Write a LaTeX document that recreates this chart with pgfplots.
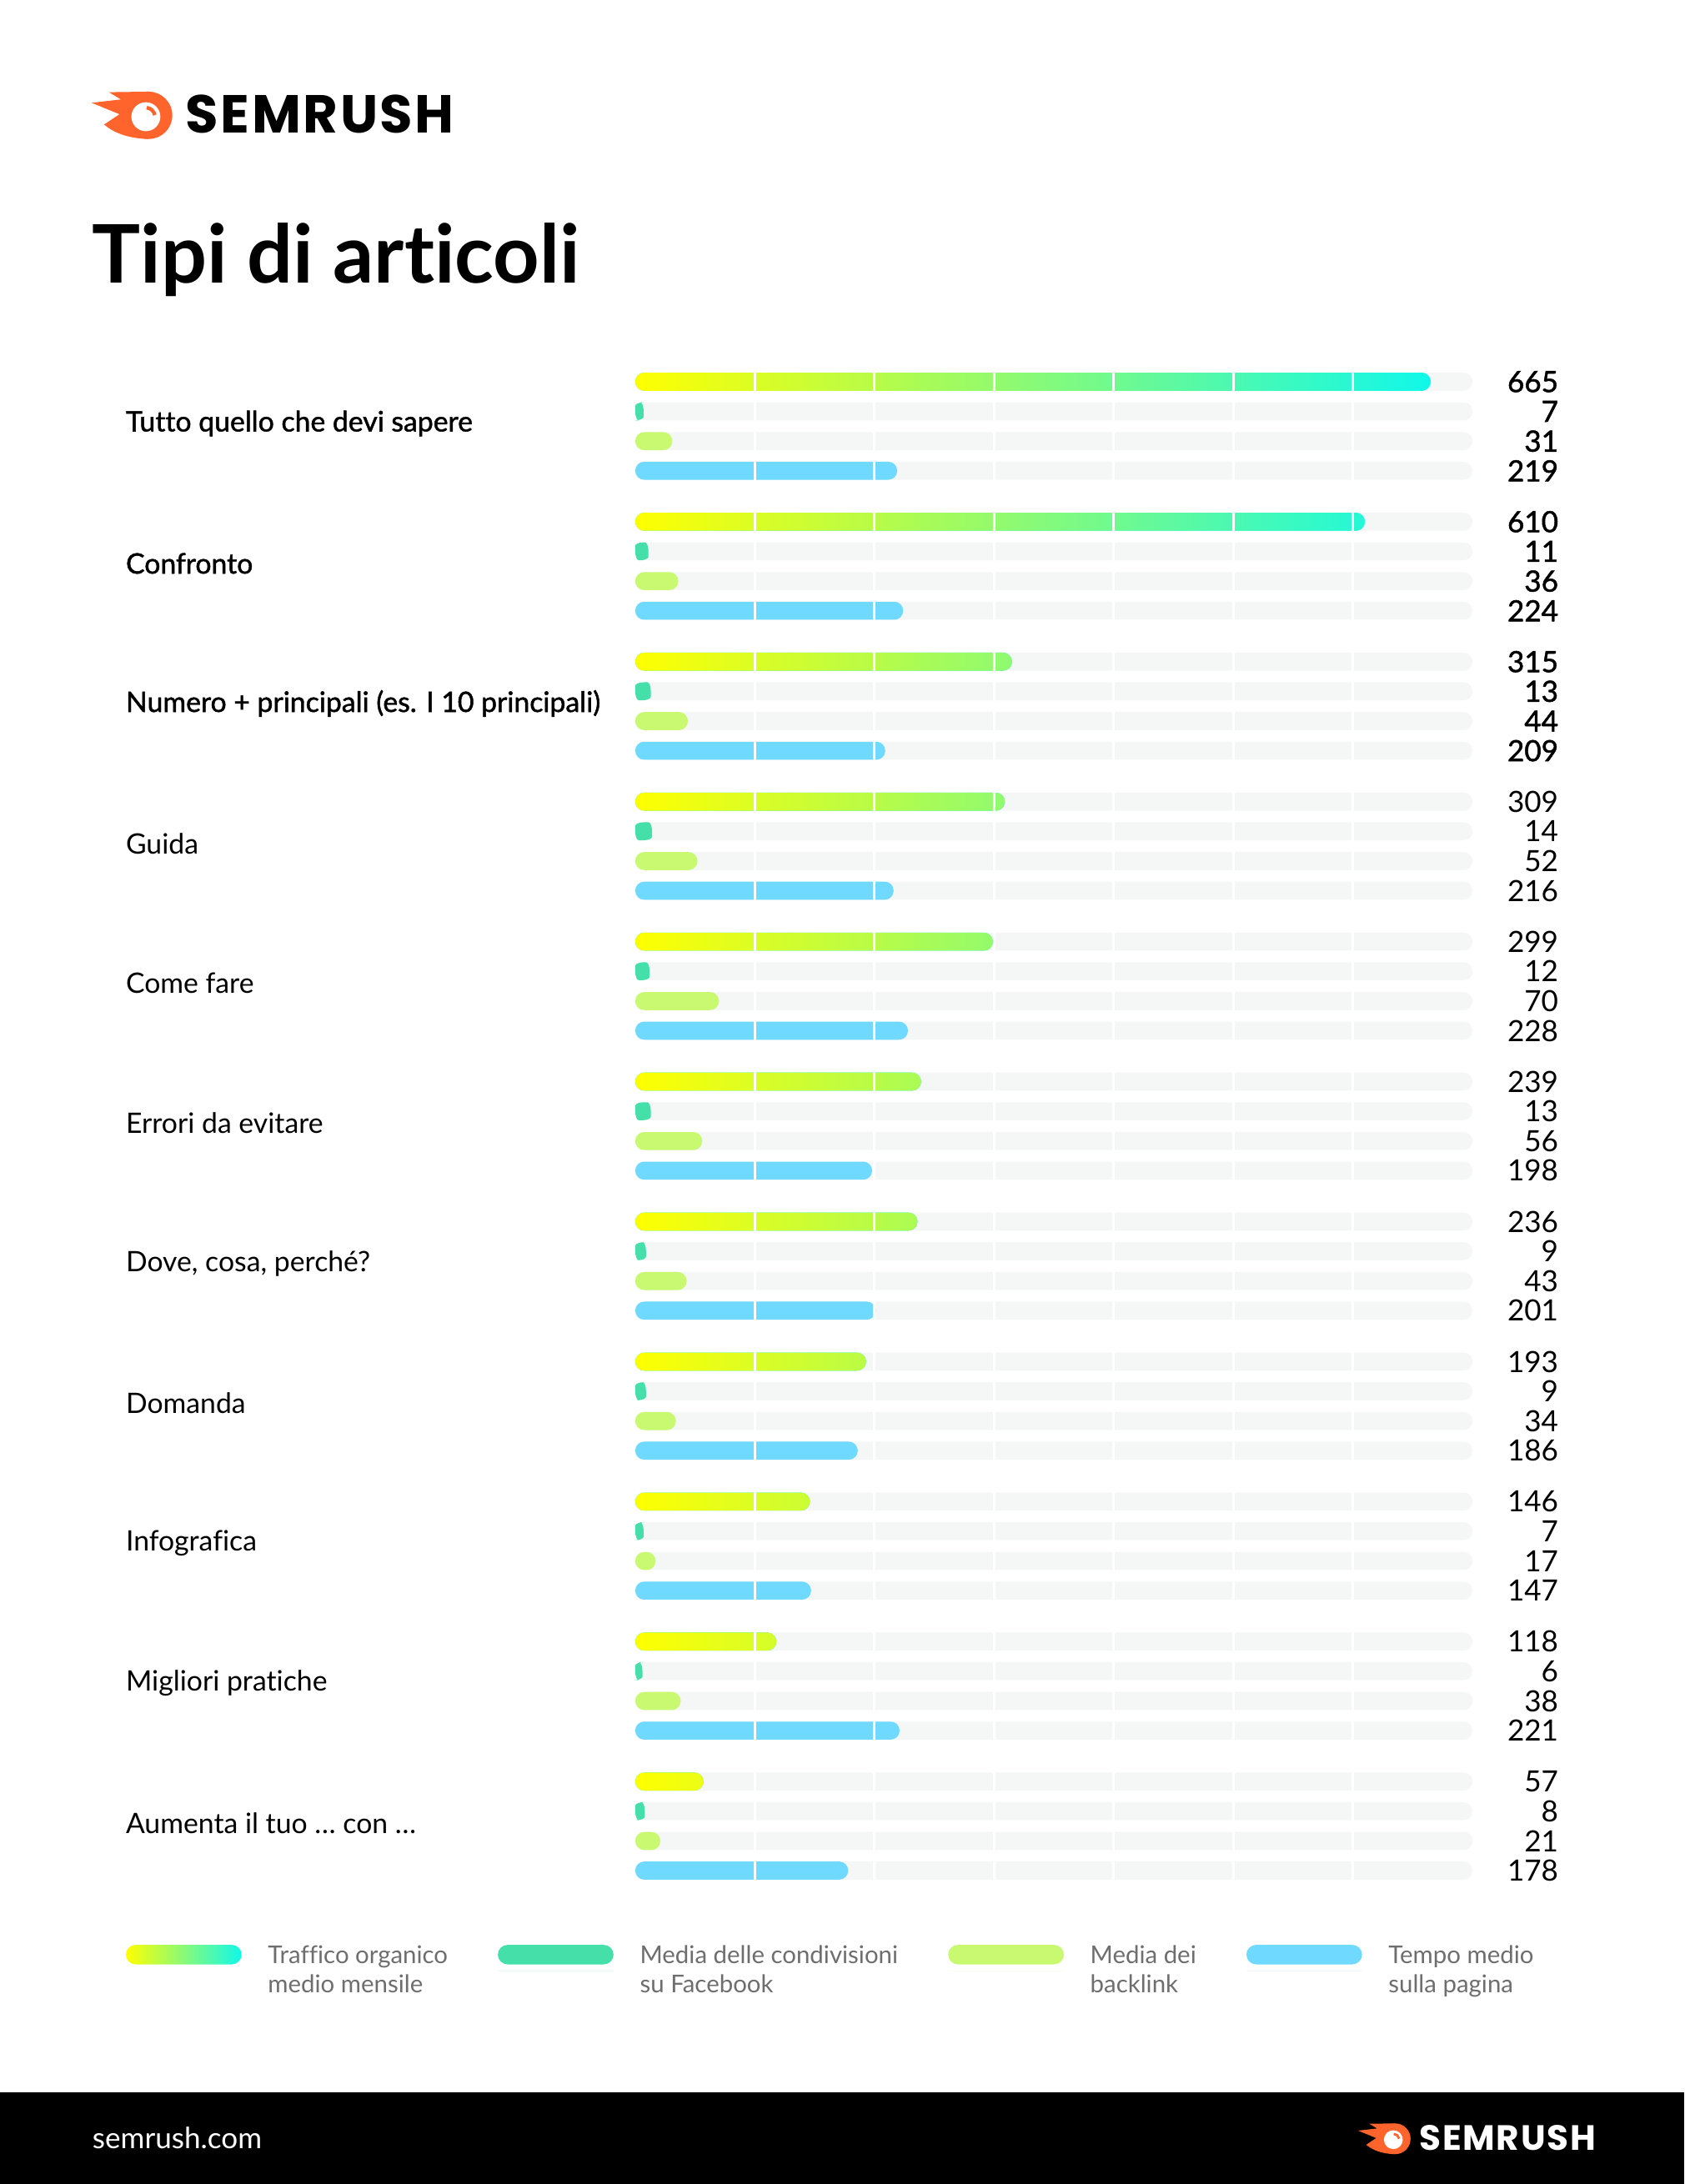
\documentclass[border=0pt]{standalone}
\usepackage{pgfplots}
\pgfplotsset{compat=1.18}
\usepackage{pgfplotstable}
\usepackage{fontspec}
\setmainfont{Lato}[Ligatures={NoCommon}]
\newfontfamily\medfont{Lato}[FakeBold=1.4, Ligatures={NoCommon}]
\newfontfamily\logofont{Poppins}[LetterSpace=4]

\definecolor{track}{HTML}{F5F7F6}
\definecolor{gyel}{HTML}{FFFF00}
\definecolor{gmid}{HTML}{88FA78}
\definecolor{gcyan}{HTML}{10F8EA}
\definecolor{fbgreen}{HTML}{45E0A9}
\definecolor{blgreen}{HTML}{C8F970}
\definecolor{tblue}{HTML}{6FD9FF}
\definecolor{legtext}{HTML}{6E6E6E}
\definecolor{srorange}{HTML}{FF642D}

% pgf fits the 25bp..75bp part of a shading onto the path
\pgfdeclarehorizontalshading{trafficgrad}{100bp}{color(0bp)=(gyel); color(25bp)=(gyel);
  color(50bp)=(gmid); color(75bp)=(gcyan); color(100bp)=(gcyan)}

% g = article type (0 = top row)
\pgfplotstableread{
g traffic fb backlink tempo track
0  665 7  31 219 700
1  610 11 36 224 700
2  315 13 44 209 700
3  309 14 52 216 700
4  299 12 70 228 700
5  239 13 56 198 700
6  236 9  43 201 700
7  193 9  34 186 700
8  146 7  17 147 700
9  118 6  38 221 700
10 57  8  21 178 700
}\articoli

% logo: #1 text colour, #2 font size, #3 arc width
\newcommand\srlogo[3]{%
  \fill[srorange] (40.7,0.8) circle (17);
  \fill[srorange] (12.2,-15.8) -- (40.7,-16.2) -- (40.7,17.8)
    .. controls (26,17.5) and (15,13) .. (8.8,7.4) -- (19.8,0)
    -- (-0.2,-8.2) -- (20.8,-10.6) -- cycle;
  \fill[white] (38.7,1.8) circle (10.4);
  \draw[srorange, line width=#3] ([shift={(-85:6.5)}]38.7,1.8) arc (-85:-10:6.5);
  \node[anchor=west, inner sep=0pt, text=#1,
    font=\logofont\bfseries\fontsize{#2}{#2}\selectfont] at (67,0) {SEMRUSH};
}

% legend swatch that does not change the row height
\newcommand\swatch[1]{%
  \begin{pgfinterruptboundingbox}
  \fill[#1, rounded corners=3.5pt] (0pt,2.5pt) rectangle (41.5pt,9.5pt);
  \end{pgfinterruptboundingbox}
  \path (0pt,0pt) -- (41.5pt,0pt);}

\pgfplotsset{
  rowbar/.style={xbar, bar width=0.129, bar shift=#1, draw=none, rounded corners=3.2pt},
  tracks/.style={rowbar=#1, fill=track, forget plot},
  vals/.style={draw=none, mark=none, forget plot, point meta=explicit symbolic,
    every node near coord/.append style={anchor=east, inner sep=0pt,
      font=\fontsize{10.5}{12}\selectfont}},
  valsb/.style={vals, nodes near coords={\medfont\pgfplotspointmeta},
    skip coords between index={3}{11}},
  valsr/.style={vals, nodes near coords={\pgfplotspointmeta},
    skip coords between index={0}{3}},
}

\begin{document}
\begin{tikzpicture}[x=0.5pt, y=-0.5pt]
\path[use as bounding box, fill=white] (0,0) rectangle (1209,1568);

\begin{axis}[
  at={(228pt,-127.875pt)}, anchor=north west,
  scale only axis, width=300.5pt, height=552.75pt,
  xmin=0, xmax=700, ymin=-0.5, ymax=10.5, y dir=reverse,
  clip=false, axis on top,
  axis line style={draw=none}, major tick length=0pt,
  xtick={100,200,300,400,500,600}, xticklabels={},
  xmajorgrids, grid style={white, line width=0.9pt},
  ytick={0,1,2,3,4,5,6,7,8,9,10},
  yticklabels={
    {\medfont Tutto quello che devi sapere},
    {\medfont Confronto},
    {\medfont Numero + principali (es. I 10 principali)},
    Guida, Come fare, Errori da evitare, {Dove, cosa, perché?},
    Domanda, Infografica, Migliori pratiche, {Aumenta il tuo … con …}},
  yticklabel style={anchor=west, inner sep=0pt, xshift=-183pt, yshift=1pt,
    font=\fontsize{10.1}{12}\selectfont},
  legend columns=4, legend cell align=left,
  legend style={at={(-0.609,-0.0318)}, anchor=north west, draw=none, fill=none,
    inner sep=0pt, font=\fontsize{8.8}{10.5}\selectfont,
    nodes={align=left, inner sep=0pt, text=legtext},
    /tikz/every odd column/.append style={column sep=9.5pt},
    /tikz/every even column/.append style={column sep=18pt}},
]
\addplot[tracks=-0.318] table[x=track, y=g] {\articoli};
\addplot[tracks=-0.1065] table[x=track, y=g] {\articoli};
\addplot[tracks=0.1065] table[x=track, y=g] {\articoli};
\addplot[tracks=0.318] table[x=track, y=g] {\articoli};

\addplot[rowbar=-0.318, fill=gcyan,
  path picture={%
    \pgfsetcornersarced{\pgfpointorigin}%
    \pgfpathrectanglecorners
      {\pgfpointadd{\pgfpointanchor{path picture bounding box}{south west}}{\pgfpoint{0pt}{-10pt}}}
      {\pgfpointadd{\pgfpointanchor{path picture bounding box}{north west}}{\pgfpoint{285.5pt}{10pt}}}%
    \pgfshadepath{trafficgrad}{0}%
    \pgfusepath{discard}},
  legend image code/.code={%
    \begin{pgfinterruptboundingbox}
    \pgfsetcornersarced{\pgfpointorigin}%
    \pgfpathmoveto{\pgfpoint{3.5pt}{2.5pt}}%
    \pgfpathlineto{\pgfpoint{38pt}{2.5pt}}%
    \pgfpatharc{-90}{90}{3.5pt}%
    \pgfpathlineto{\pgfpoint{3.5pt}{9.5pt}}%
    \pgfpatharc{90}{270}{3.5pt}%
    \pgfpathclose
    \pgfshadepath{trafficgrad}{0}%
    \pgfusepath{discard}%
    \end{pgfinterruptboundingbox}
    \pgfpathmoveto{\pgfpoint{0pt}{0pt}}\pgfpathlineto{\pgfpoint{41.5pt}{0pt}}%
    \pgfusepath{discard}}]
  table[x=traffic, y=g] {\articoli};
\addlegendentry{Traffico organico\\medio mensile}
\addplot[rowbar=-0.1065, fill=fbgreen,
  /utils/exec={\pgfsetcornersarced{\pgfpoint{1.29pt}{3.2pt}}},
  legend image code/.code={\swatch{fbgreen}}]
  table[x=fb, y=g] {\articoli};
\addlegendentry{Media delle condivisioni\\su Facebook}
\addplot[rowbar=0.1065, fill=blgreen,
  legend image code/.code={\swatch{blgreen}}]
  table[x=backlink, y=g] {\articoli};
\addlegendentry{Media dei\\backlink}
\addplot[rowbar=0.318, fill=tblue,
  legend image code/.code={\swatch{tblue}}]
  table[x=tempo, y=g] {\articoli};
\addlegendentry{Tempo medio\\sulla pagina}

\addplot[valsb] table[x expr=772.2, y expr=\thisrow{g}-0.318, meta=traffic] {\articoli};
\addplot[valsr] table[x expr=772.2, y expr=\thisrow{g}-0.318, meta=traffic] {\articoli};
\addplot[valsb] table[x expr=772.2, y expr=\thisrow{g}-0.1065, meta=fb] {\articoli};
\addplot[valsr] table[x expr=772.2, y expr=\thisrow{g}-0.1065, meta=fb] {\articoli};
\addplot[valsb] table[x expr=772.2, y expr=\thisrow{g}+0.1065, meta=backlink] {\articoli};
\addplot[valsr] table[x expr=772.2, y expr=\thisrow{g}+0.1065, meta=backlink] {\articoli};
\addplot[valsb] table[x expr=772.2, y expr=\thisrow{g}+0.318, meta=tempo] {\articoli};
\addplot[valsr] table[x expr=772.2, y expr=\thisrow{g}+0.318, meta=tempo] {\articoli};
\end{axis}

\begin{scope}[shift={(66,82)}]
  \srlogo{black}{19.2}{1.3pt}
\end{scope}
\node[anchor=base west, inner sep=0pt, font=\bfseries\fontsize{29}{29}\selectfont]
  at (66,203) {Tipi di articoli};

\fill[black] (0,1502) rectangle (1209,1568);
\node[anchor=west, inner sep=0pt, text=white, font=\fontsize{10.5}{12}\selectfont]
  at (66,1535) {semrush.com};
\begin{scope}[shift={(975,1535)}, scale=0.65]
  \srlogo{white}{12.6}{0.85pt}
\end{scope}
\end{tikzpicture}
\end{document}
